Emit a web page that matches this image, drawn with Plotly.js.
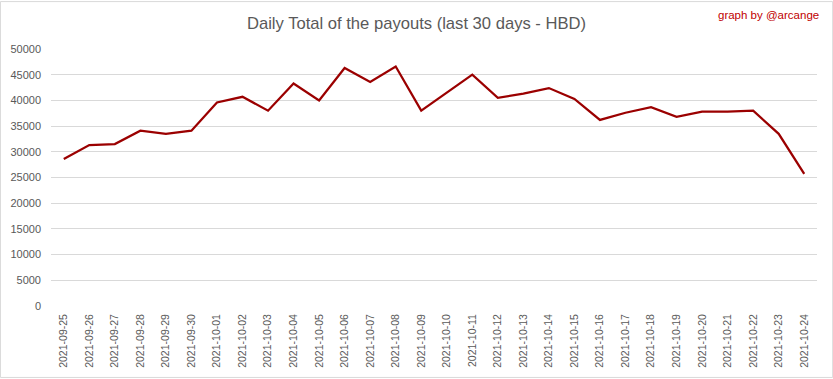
<!DOCTYPE html>
<html>
<head>
<meta charset="utf-8">
<script src="https://cdn.plot.ly/plotly-3.0.1.min.js"></script>
<style>
html,body{margin:0;padding:0;background:#fff;}
#chart{width:833px;height:379px;}
</style>
</head>
<body>
<div id="chart"></div>
<script>
const dates = ["2021-09-25","2021-09-26","2021-09-27","2021-09-28","2021-09-29","2021-09-30",
"2021-10-01","2021-10-02","2021-10-03","2021-10-04","2021-10-05","2021-10-06","2021-10-07","2021-10-08",
"2021-10-09","2021-10-10","2021-10-11","2021-10-12","2021-10-13","2021-10-14","2021-10-15","2021-10-16",
"2021-10-17","2021-10-18","2021-10-19","2021-10-20","2021-10-21","2021-10-22","2021-10-23","2021-10-24"];
const payouts = [28600,31300,31500,34100,33500,34100,
39600,40700,38000,43300,40000,46300,43600,46600,
38000,41500,45000,40500,41300,42400,40300,36200,
37600,38700,36800,37800,37800,38000,33500,25700];
const yTicks = [0,5000,10000,15000,20000,25000,30000,35000,40000,45000,50000];

const trace = {
  x: dates, y: payouts, type: 'scatter', mode: 'lines',
  line: {color: '#9b0000', width: 2.25},
  hoverinfo: 'x+y'
};
const layout = {
  width: 833, height: 379,
  margin: {l: 51, r: 16, t: 49, b: 73, pad: 0},
  paper_bgcolor: '#fff', plot_bgcolor: '#fff',
  showlegend: false,
  font: {family: 'Liberation Sans, Arial, sans-serif', color: '#595959', size: 11},
  title: {text: 'Daily Total of the payouts (last 30 days - HBD)', x: 0.5, xanchor: 'center', y: 0.94, yanchor: 'middle',
          font: {family: 'Liberation Sans, Arial, sans-serif', size: 16.6, color: '#595959'}},
  xaxis: {type: 'category', range: [-0.5, dates.length - 0.5], tickangle: -90, showgrid: false, zeroline: false,
          showline: false, ticks: '', ticklabelstandoff: 5, tickfont: {size: 10.5, color: '#595959'}, fixedrange: true},
  yaxis: {range: [0, 50000], tickvals: yTicks, ticktext: yTicks.map(String), showgrid: true,
          gridcolor: '#d9d9d9', gridwidth: 1, zeroline: false, showline: false, ticks: '',
          ticklabelstandoff: 9, tickfont: {size: 11, color: '#595959'}, fixedrange: true},
  annotations: [{text: 'graph by @arcange', xref: 'paper', yref: 'paper', x: 1.0, y: 1.0,
                 xanchor: 'right', yanchor: 'middle', xshift: 4, yshift: 34, showarrow: false,
                 font: {family: 'Liberation Sans, Arial, sans-serif', size: 11.5, color: '#c00000'}}],
  shapes: [{type: 'rect', xref: 'paper', yref: 'paper', x0: -0.066, x1: 1.0205, y0: -0.278, y1: 1.1845,
            line: {color: '#d9d9d9', width: 1}, fillcolor: 'rgba(0,0,0,0)', layer: 'below'}]
};
Plotly.newPlot('chart', [trace], layout, {displayModeBar: false, staticPlot: true});
</script>
</body>
</html>
